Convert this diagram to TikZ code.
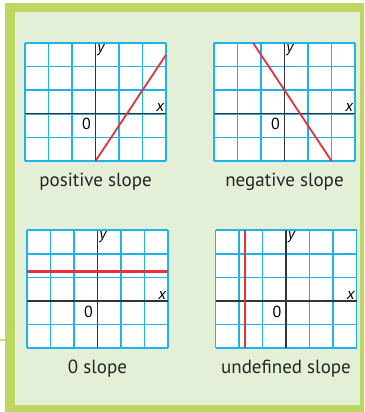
\documentclass[tikz,border=0pt]{standalone}
\usepackage{fontspec}
\setmainfont{PT Sans}
\definecolor{bandgreen}{HTML}{BDD762}
\definecolor{panelgreen}{HTML}{E3EFD6}
\definecolor{gridblue}{HTML}{1EB4EA}
\definecolor{slopered}{HTML}{E8313B}
\begin{document}
\begin{tikzpicture}[x=1pt, y=-1pt,
    gridline/.style={gridblue, line width=1.6pt},
    axisline/.style={black!80, line width=1.2pt},
    redline/.style={slopered, line width=2pt},
    axlabel/.style={inner sep=1pt, font=\fontsize{16}{16}\selectfont},
    caption/.style={font=\fontsize{19}{20}\selectfont, text=black!85}]
    \useasboundingbox (0,0) rectangle (364,412);
    % frame
    \fill[bandgreen] (4.5,3) rectangle (364,412);
    \fill[panelgreen] (15,12) rectangle (360,405);
    \draw[bandgreen!80, line width=1.5pt] (0,340) -- (5,340);
    % the four slope grids
    \foreach \ox/\oy/\nm/\txt/\ra/\rb/\rw in {
        95.5/113.8/pos/positive slope/{(0,-2)}/{(3,2.5)}/1.8pt,
        284.5/113.8/neg/negative slope/{(-4/3,3)}/{(2,-2)}/1.8pt,
        97.5/301/zero/0 slope/{(-3,1.25)}/{(3,1.25)}/2.6pt,
        286/301/undef/undefined slope/{(-1.75,-2)}/{(-1.75,3)}/2.6pt}{
    \begin{scope}[shift={(\ox,\oy)}, x=23.5pt, y=23.6pt]
    \fill[white] (-3,-2) rectangle (3,3);
    \draw[gridline, step=1] (-3,-2) grid (3,3);
    \draw[axisline] (-3,0) -- (3,0);
    \draw[axisline] (0,-2) -- (0,3);
    \draw[redline, line width=\rw] \ra -- \rb;
    \node[axlabel, anchor=north west] (y\nm) at (0.03,3) {\itshape y};
    \node[axlabel, anchor=south east] (x\nm) at (2.97,0.03) {\itshape x};
    \node[axlabel, anchor=north east] (o\nm) at (-0.15,-0.15) {0};
    \node[caption, anchor=north] (c\nm) at (0,-2.35) {\txt};
    \end{scope}
    }
\end{tikzpicture}
\end{document}
